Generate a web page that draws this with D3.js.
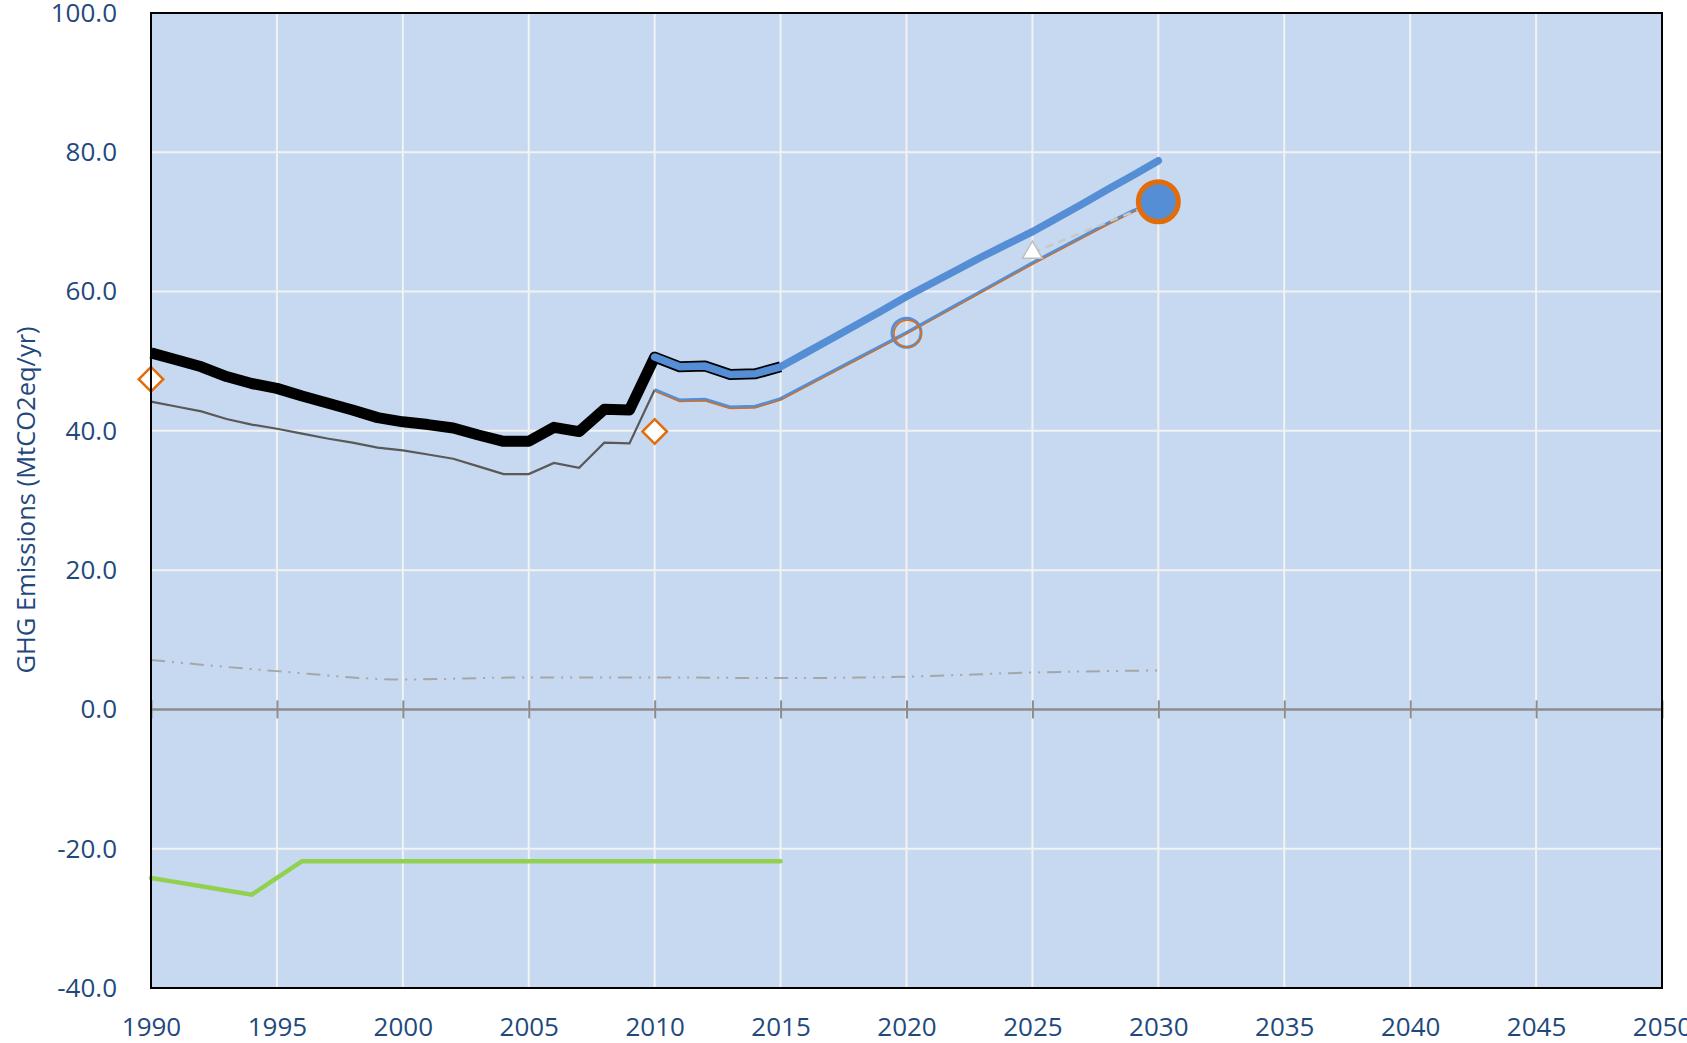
<!DOCTYPE html>
<html lang="en">
<head>
    <meta charset="utf-8">
    <title>GHG Emissions</title>
    <script src="https://cdn.jsdelivr.net/npm/d3@7"></script>
    <style type="text/css">
        body { margin: 0; background: #fff; }
        text { font-family: "Open Sans", sans-serif; }
    </style>
</head>
<body>
<script type="text/javascript">

    // historical total (thick black), 1990-2015
    var totalYears = d3.range(1990, 2016);
    var totalVals = [51.2, 50.2, 49.2, 47.8, 46.8, 46.1, 45.0, 44.0, 43.0, 41.9,
                     41.3, 40.9, 40.4, 39.4, 38.5, 38.5, 40.5, 39.9, 43.1, 43.0,
                     50.6, 49.2, 49.3, 48.1, 48.2, 49.2];

    // historical excl. (thin grey), 1990-2010
    var exclYears = d3.range(1990, 2011);
    var exclVals = [44.2, 43.5, 42.8, 41.7, 40.9, 40.3, 39.6, 38.9, 38.3, 37.6,
                    37.2, 36.6, 36.0, 34.9, 33.8, 33.8, 35.4, 34.7, 38.3, 38.2, 45.9];

    // projection (thick blue), 2010-2030
    var projYears = d3.range(2010, 2031);
    var projVals = [50.6, 49.2, 49.3, 48.1, 48.2, 49.2, 51.2, 53.2, 55.2, 57.2,
                    59.3, 61.2, 63.1, 65.0, 66.8, 68.6, 70.6, 72.6, 74.7, 76.7, 78.8];

    // projection excl. (thin blue / orange), 2010-2030
    var projExclVals = [45.9, 44.4, 44.5, 43.4, 43.5, 44.6, 46.5, 48.4, 50.3, 52.2,
                        54.1, 56.1, 58.1, 60.1, 62.1, 64.1, 66.0, 67.9, 69.8, 71.6, 73.0];

    // dash-dot series
    var otherYears = [1990, 1995, 2000, 2005, 2010, 2015, 2020, 2025, 2030];
    var otherVals = [7.1, 5.5, 4.3, 4.6, 4.6, 4.5, 4.7, 5.3, 5.6];

    // LULUCF (green), 1990-2015
    var lulucfYears = d3.range(1990, 2016);
    var lulucfVals = [-24.2, -24.8, -25.4, -26.0, -26.6, -24.2, -21.8, -21.8, -21.8, -21.8,
                      -21.8, -21.8, -21.8, -21.8, -21.8, -21.8, -21.8, -21.8, -21.8, -21.8,
                      -21.8, -21.8, -21.8, -21.8, -21.8, -21.8];

    // point markers
    var diamondPts = [[1990, 47.4], [2010, 39.9]];
    var target2020 = [2020, 54.1];
    var target2025 = [2025, 65.6];
    var target2030 = [2030, 72.9];

    var xTicks = d3.range(1990, 2051, 5);
    var yTicks = d3.range(-40, 101, 20);

    var width = 1687, height = 1043;
    var pLeft = 151, pTop = 13, pRight = 1662, pBottom = 988;

    var x = d3.scaleLinear().domain([1990, 2050]).range([pLeft, pRight]);
    var y = d3.scaleLinear().domain([-40, 100]).range([pBottom, pTop]);

    var svg = d3.select("body")
        .append("svg")
        .attr("width", width)
        .attr("height", height);

    svg.append("rect")
        .attr("x", pLeft).attr("y", pTop)
        .attr("width", pRight - pLeft).attr("height", pBottom - pTop)
        .attr("fill", "#C6D9F0");

    // grid
    svg.append("g").selectAll("line")
        .data(xTicks.filter(function (d) { return d > 1990 && d < 2050; }))
        .enter().append("line")
        .attr("x1", function (d) { return x(d); })
        .attr("x2", function (d) { return x(d); })
        .attr("y1", pTop).attr("y2", pBottom)
        .attr("stroke", "#F2F2F2").attr("stroke-width", 2);

    svg.append("g").selectAll("line")
        .data(yTicks.filter(function (d) { return d > -40 && d < 100 && d !== 0; }))
        .enter().append("line")
        .attr("x1", pLeft).attr("x2", pRight)
        .attr("y1", function (d) { return y(d); })
        .attr("y2", function (d) { return y(d); })
        .attr("stroke", "#F2F2F2").attr("stroke-width", 2);

    // zero axis with crossing ticks
    var zeroAxis = svg.append("g")
        .attr("transform", "translate(0," + (y(0) - 9) + ")")
        .call(d3.axisBottom(x).tickValues(xTicks).tickSize(18).tickFormat(""));
    zeroAxis.select(".domain").remove();
    zeroAxis.selectAll(".tick line").attr("stroke", "#8C8C8C").attr("stroke-width", 2);
    svg.append("line")
        .attr("x1", pLeft).attr("x2", pRight)
        .attr("y1", y(0)).attr("y2", y(0))
        .attr("stroke", "#8C8C8C").attr("stroke-width", 2.5);

    // axis labels
    var xAxis = svg.append("g")
        .attr("transform", "translate(0," + pBottom + ")")
        .call(d3.axisBottom(x).tickValues(xTicks).tickSize(0).tickPadding(30).tickFormat(d3.format("d")));
    xAxis.select(".domain").remove();
    xAxis.selectAll("text")
        .attr("fill", "#1F497D")
        .style("font-size", "26px");

    var yAxis = svg.append("g")
        .attr("transform", "translate(" + pLeft + ",0)")
        .call(d3.axisLeft(y).tickValues(yTicks).tickSize(0).tickPadding(34)
            .tickFormat(function (d) { return d.toFixed(1); }));
    yAxis.select(".domain").remove();
    yAxis.selectAll("text")
        .attr("fill", "#1F497D")
        .style("font-size", "26px");

    svg.append("text")
        .attr("transform", "translate(26," + 500 + ") rotate(-90)")
        .attr("text-anchor", "middle")
        .attr("dy", "0.35em")
        .attr("fill", "#1F497D")
        .style("font-size", "25.5px")
        .text("GHG Emissions (MtCO2eq/yr)");

    var line = d3.line()
        .x(function (d) { return x(d[0]); })
        .y(function (d) { return y(d[1]); });

    var smooth = d3.line()
        .curve(d3.curveMonotoneX)
        .x(function (d) { return x(d[0]); })
        .y(function (d) { return y(d[1]); });

    function pairs(xs, ys) {
        return xs.map(function (d, i) { return [d, ys[i]]; });
    }

    // dash-dot-dot
    svg.append("path")
        .attr("d", smooth(pairs(otherYears, otherVals)))
        .attr("fill", "none")
        .attr("stroke", "#A6A6A6")
        .attr("stroke-width", 2)
        .attr("stroke-dasharray", "14,7,2,7,2,7");

    // green
    svg.append("path")
        .attr("d", line(pairs(lulucfYears, lulucfVals)))
        .attr("fill", "none")
        .attr("stroke", "#92D050")
        .attr("stroke-width", 4.5)
        .attr("stroke-linecap", "round");

    // thin grey
    svg.append("path")
        .attr("d", line(pairs(exclYears, exclVals)))
        .attr("fill", "none")
        .attr("stroke", "#595959")
        .attr("stroke-width", 2.2);

    // thick black
    svg.append("path")
        .attr("d", line(pairs(totalYears, totalVals)))
        .attr("fill", "none")
        .attr("stroke", "#000")
        .attr("stroke-width", 11)
        .attr("stroke-linejoin", "round");

    // thick blue projection
    svg.append("path")
        .attr("d", line(pairs(projYears, projVals)))
        .attr("fill", "none")
        .attr("stroke", "#558ED5")
        .attr("stroke-width", 7.5)
        .attr("stroke-linejoin", "round")
        .attr("stroke-linecap", "round");

    // thin projection: blue with orange edge
    svg.append("path")
        .attr("d", line(pairs(projYears, projExclVals)))
        .attr("fill", "none")
        .attr("stroke", "#558ED5")
        .attr("stroke-width", 3.4);
    svg.append("path")
        .attr("d", line(pairs(projYears, projExclVals)))
        .attr("transform", "translate(0,1.4)")
        .attr("fill", "none")
        .attr("stroke", "#E36C09")
        .attr("stroke-width", 1.1);

    // dashed link 2025 -> 2030
    svg.append("path")
        .attr("d", line([target2025, target2030]))
        .attr("fill", "none")
        .attr("stroke", "#C8C8C8")
        .attr("stroke-width", 2.5)
        .attr("stroke-dasharray", "8,6");

    // diamonds
    svg.append("g").selectAll("path")
        .data(diamondPts)
        .enter().append("path")
        .attr("d", d3.symbol().type(d3.symbolSquare).size(300))
        .attr("transform", function (d) {
            return "translate(" + x(d[0]) + "," + y(d[1]) + ") rotate(45)";
        })
        .attr("fill", "#fff")
        .attr("stroke", "#E36C09")
        .attr("stroke-width", 2.5);

    // 2020 hollow circle
    svg.append("circle")
        .attr("cx", x(target2020[0])).attr("cy", y(target2020[1]))
        .attr("r", 14.5)
        .attr("fill", "none")
        .attr("stroke", "#558ED5")
        .attr("stroke-width", 3);
    svg.append("circle")
        .attr("cx", x(target2020[0]) + 1).attr("cy", y(target2020[1]) + 1)
        .attr("r", 13.5)
        .attr("fill", "none")
        .attr("stroke", "#E36C09")
        .attr("stroke-width", 1.5);

    // 2025 triangle
    svg.append("path")
        .attr("d", d3.symbol().type(d3.symbolTriangle).size(170))
        .attr("transform", "translate(" + x(target2025[0]) + "," + y(target2025[1]) + ")")
        .attr("fill", "#fff")
        .attr("stroke", "#BFBFBF")
        .attr("stroke-width", 1.5);

    // 2030 big circle
    svg.append("circle")
        .attr("cx", x(target2030[0])).attr("cy", y(target2030[1]))
        .attr("r", 20)
        .attr("fill", "#558ED5")
        .attr("stroke", "#E36C09")
        .attr("stroke-width", 5);

    // plot border
    svg.append("rect")
        .attr("x", pLeft).attr("y", pTop)
        .attr("width", pRight - pLeft).attr("height", pBottom - pTop)
        .attr("fill", "none")
        .attr("stroke", "#000")
        .attr("stroke-width", 2);

</script>
</body>
</html>
